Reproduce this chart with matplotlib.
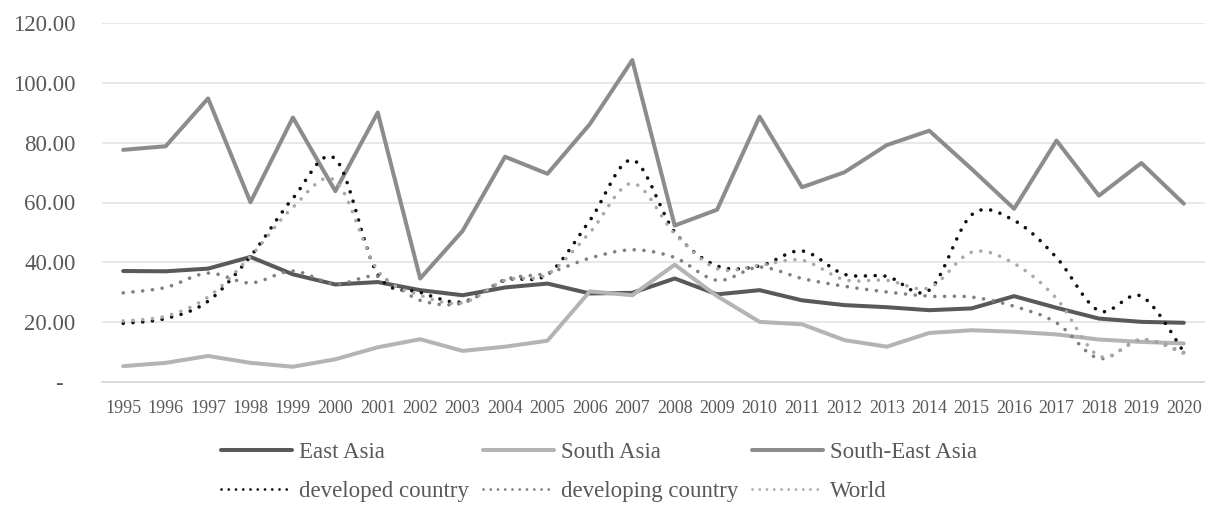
import numpy as np
import matplotlib

matplotlib.use("Agg")
import matplotlib.pyplot as plt
from matplotlib.lines import Line2D
from matplotlib.path import Path
from matplotlib.patches import PathPatch
from matplotlib.ticker import FixedLocator, FuncFormatter

years = [str(y) for y in range(1995, 2021)]

east_asia = [37.1, 37.0, 37.9, 41.8, 36.0, 32.6, 33.4, 30.7, 29.0, 31.6, 32.9, 29.6, 29.8,
             34.6, 29.3, 30.7, 27.3, 25.7, 25.0, 24.0, 24.6, 28.7, 24.8, 21.2, 20.1, 19.8]
south_asia = [5.3, 6.4, 8.7, 6.4, 5.1, 7.6, 11.6, 14.3, 10.4, 11.8, 13.8, 30.3, 29.0,
              39.2, 28.7, 20.1, 19.3, 14.0, 11.8, 16.4, 17.3, 16.8, 15.9, 14.2, 13.4, 12.9]
se_asia = [77.6, 78.8, 94.8, 60.1, 88.4, 63.8, 90.1, 34.6, 50.5, 75.3, 69.6, 86.2, 107.6,
           52.3, 57.6, 88.7, 65.1, 70.1, 79.2, 84.0, 71.2, 57.9, 80.7, 62.3, 73.2, 59.6]
developed = [19.6, 21.2, 27.0, 42.0, 61.4, 74.6, 36.0, 30.0, 26.8, 34.0, 35.9, 54.0, 74.2,
             50.1, 38.8, 38.8, 43.8, 36.0, 35.3, 30.7, 55.9, 54.0, 41.6, 23.8, 28.7, 10.1]
developing = [29.8, 31.6, 36.4, 33.1, 37.1, 32.7, 35.3, 27.3, 26.4, 34.2, 36.4, 41.4, 44.2,
              41.6, 34.0, 38.4, 34.6, 32.0, 30.1, 28.7, 28.4, 25.3, 19.8, 7.9, 14.2, 9.8]
world = [20.4, 22.0, 28.4, 42.0, 58.4, 67.3, 37.3, 29.0, 26.5, 34.0, 36.0, 50.0, 66.4,
         49.6, 37.9, 39.0, 40.7, 34.2, 34.0, 31.5, 43.4, 39.6, 27.9, 8.7, 14.2, 9.6]

y_ticks = [0, 20, 40, 60, 80, 100, 120]

TEXT = "#595959"
FONT = ["Liberation Serif", "DejaVu Serif"]
plt.rcParams["font.family"] = FONT


def smooth_path(xs, ys):
    # Excel-style smoothed line: cubic Bezier segments through the data points
    pts = np.column_stack([xs, ys]).astype(float)
    n = len(pts)
    verts = [pts[0]]
    codes = [Path.MOVETO]
    for i in range(n - 1):
        p0, p3 = pts[i], pts[i + 1]
        prev = pts[i - 1] if i > 0 else pts[i]
        nxt = pts[i + 2] if i + 2 < n else pts[i + 1]
        c1 = p0 + (p3 - prev) / 6.0
        c2 = p3 - (nxt - p0) / 6.0
        verts += [c1, c2, p3]
        codes += [Path.CURVE4] * 3
    return Path(verts, codes)


fig = plt.figure(figsize=(12.05, 5.05), dpi=100)
ax = fig.add_axes([102 / 1205, 1 - 382 / 505, (1205 - 102) / 1205, (382 - 23) / 505])

x = np.arange(len(years))
solid = [
    ("East Asia", east_asia, "#595959"),
    ("South Asia", south_asia, "#b4b4b4"),
    ("South-East Asia", se_asia, "#8c8c8c"),
]
dotted = [
    ("developed country", developed, "#111111"),
    ("developing country", developing, "#7f7f7f"),
    ("World", world, "#a9a9a9"),
]

handles = {}
for name, vals, col in solid:
    ax.plot(x, vals, color=col, lw=2.9, solid_joinstyle="round",
            solid_capstyle="round", zorder=3)
    handles[name] = Line2D([], [], color=col, lw=2.9, solid_capstyle="round")

dot_style = (0, (0.01, 2.7))
for name, vals, col in dotted:
    patch = PathPatch(smooth_path(x, vals), fill=False, edgecolor=col, lw=2.6,
                      linestyle=dot_style, capstyle="round", zorder=4)
    ax.add_patch(patch)
    handles[name] = Line2D([], [], color=col, lw=2.0, linestyle=(0, (0.01, 2.6)),
                           dash_capstyle="round")

ax.set_xlim(-0.5, len(years) - 0.5)
ax.set_ylim(0, 120)
ax.set_xticks(x)
ax.set_xticklabels(years)
ax.yaxis.set_major_locator(FixedLocator(y_ticks))
ax.yaxis.set_major_formatter(FuncFormatter(lambda v, _: "-  " if v == 0 else f"{v:.2f}"))

ax.grid(axis="y", color="#e6e6e6", lw=1.3)
ax.set_axisbelow(True)
for side in ("top", "right", "left"):
    ax.spines[side].set_visible(False)
ax.spines["bottom"].set_color("#d9d9d9")
ax.spines["bottom"].set_linewidth(1.3)
ax.tick_params(axis="both", length=0)
ax.tick_params(axis="x", labelsize=13, labelcolor=TEXT, pad=13)
ax.tick_params(axis="y", labelsize=16.5, labelcolor=TEXT, pad=19)

order = ["East Asia", "developed country", "South Asia", "developing country",
         "South-East Asia", "World"]
leg = fig.legend([handles[k] for k in order], order, loc="center",
                 bbox_to_anchor=(0.497, 1 - 472 / 505), ncol=3, frameon=False,
                 fontsize=16.5, handlelength=3.1, handletextpad=0.3,
                 columnspacing=0.6, labelspacing=0.75, borderpad=0.2)
for t in leg.get_texts():
    t.set_color(TEXT)

fig.savefig("out.png", dpi=100)
